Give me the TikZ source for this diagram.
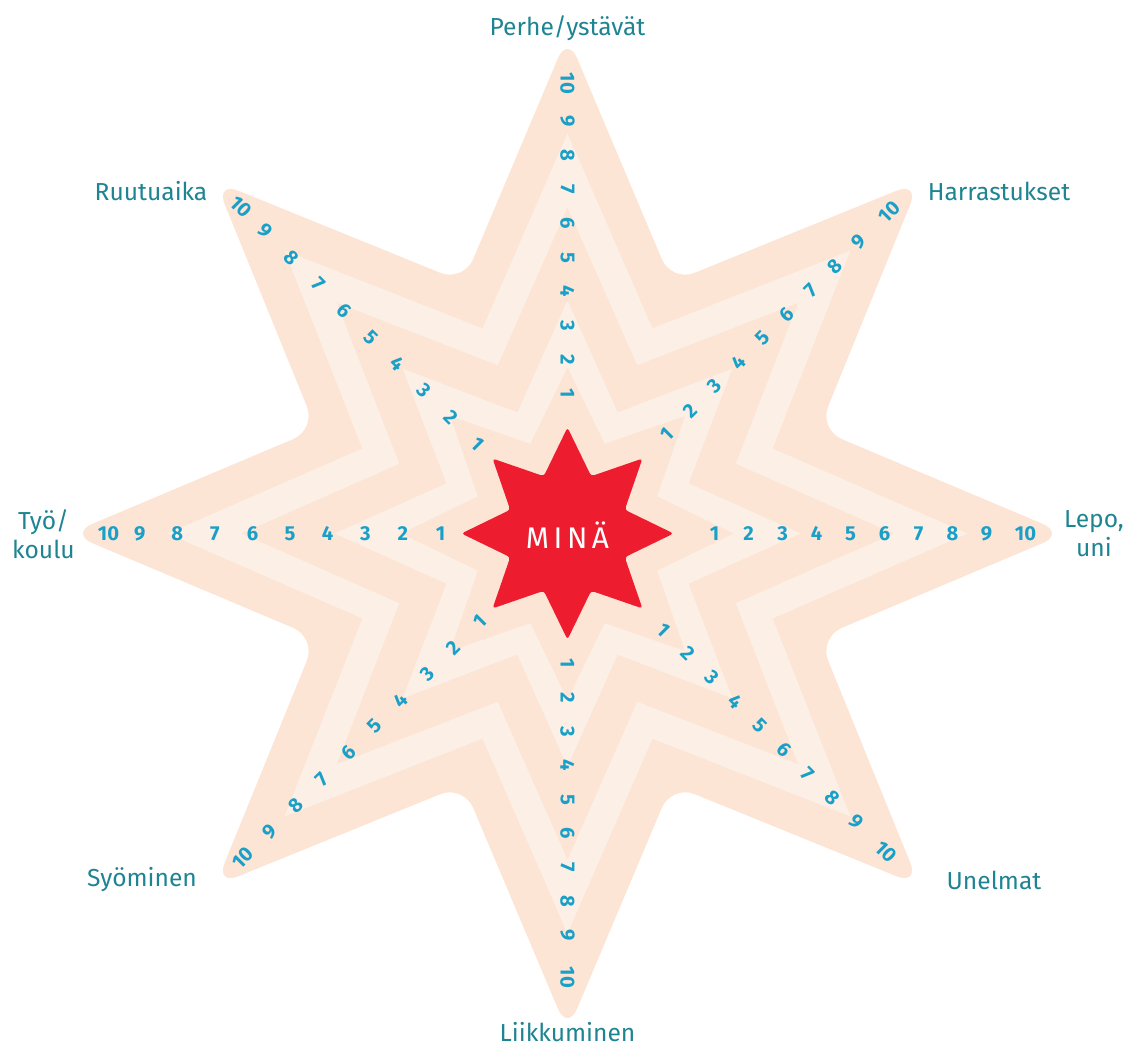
\documentclass[tikz,border=0pt]{standalone}
\usepackage{fontspec}
\setmainfont{Fira Sans}
\newfontfamily\minafont[LetterSpace=15]{Fira Sans}
\usepackage{xcolor}
\usetikzlibrary{calc}

\definecolor{peachdark}{RGB}{253,229,214}
\definecolor{peachlight}{RGB}{252,239,229}
\definecolor{minared}{RGB}{237,28,46}
\definecolor{numblue}{RGB}{26,160,200}
\definecolor{labelteal}{RGB}{30,132,146}

% eight-point star, tips at radius #1, notches at radius #2
\newcommand{\starpath}[2]{($(0:#1)!0.5!(22.5:#2)$)
  \foreach \a in {0,45,...,315}{ -- (\a+22.5:#2) -- (\a+45:#1) } -- cycle}

\begin{document}
\begin{tikzpicture}[
    x=0.02cm, y=0.02cm,
    band/.style={draw=none},
    num/.style={font=\fontsize{11.5}{11.5}\selectfont\bfseries, text=numblue, inner sep=0pt},
    area/.style={font=\fontsize{14}{16.5}\selectfont, text=labelteal, align=center, inner sep=0pt}
]
    \useasboundingbox (-567.5,-520.5) rectangle (564.5,533.5);

    % Nested star bands
    \fill[band, peachdark, rounded corners=0.5cm] \starpath{498}{272};
    \fill[band, peachlight] \starpath{400}{222};
    \fill[band, peachdark] \starpath{326}{182};
    \fill[band, peachlight] \starpath{233}{131};
    \fill[band, peachdark] \starpath{166}{97};

    % Centre star
    \fill[minared, rounded corners=0.06cm] \starpath{106}{62};
    \node[font=\minafont\fontsize{17}{17}\selectfont, text=white] (mina) at (0,-2) {MINÄ};

    % Scale numbers along each arm: angle/rotation/first/step/ten
    \foreach \ang/\rot/\start/\step/\ten [count=\i] in {
        90/-90/140/34/450, 45/45/140/34/455, 0/0/147/34/458,
        -45/-45/136/34/450, -90/-90/130/34/444, -135/45/124/37.2/459,
        180/0/127/37.6/459, 135/-45/127/37.6/462}{
        \foreach \k in {1,...,10}{
            \pgfmathsetmacro{\d}{\k<10 ? \start+(\k-1)*\step : \ten}
            \node[num, rotate=\rot] (n\i-\k) at (\ang:\d) {\k};
        }
    }

    % Arm labels
    \node[area] (perhe) at (0,505.5) {Perhe/ystävät};
    \node[area] (harrastus) at (431.5,342.5) {Harrastukset};
    \node[area] (ruutu) at (-416.5,342.5) {Ruutuaika};
    \node[area] (tyo) at (-524,-0.5) {Työ/\\koulu};
    \node[area] (lepo) at (526.5,-0.5) {Lepo,\\uni};
    \node[area] (syominen) at (-425.5,-346.5) {Syöminen};
    \node[area] (unelmat) at (426.5,-346.5) {Unelmat};
    \node[area] (liikkuminen) at (0,-498.5) {Liikkuminen};
\end{tikzpicture}
\end{document}
